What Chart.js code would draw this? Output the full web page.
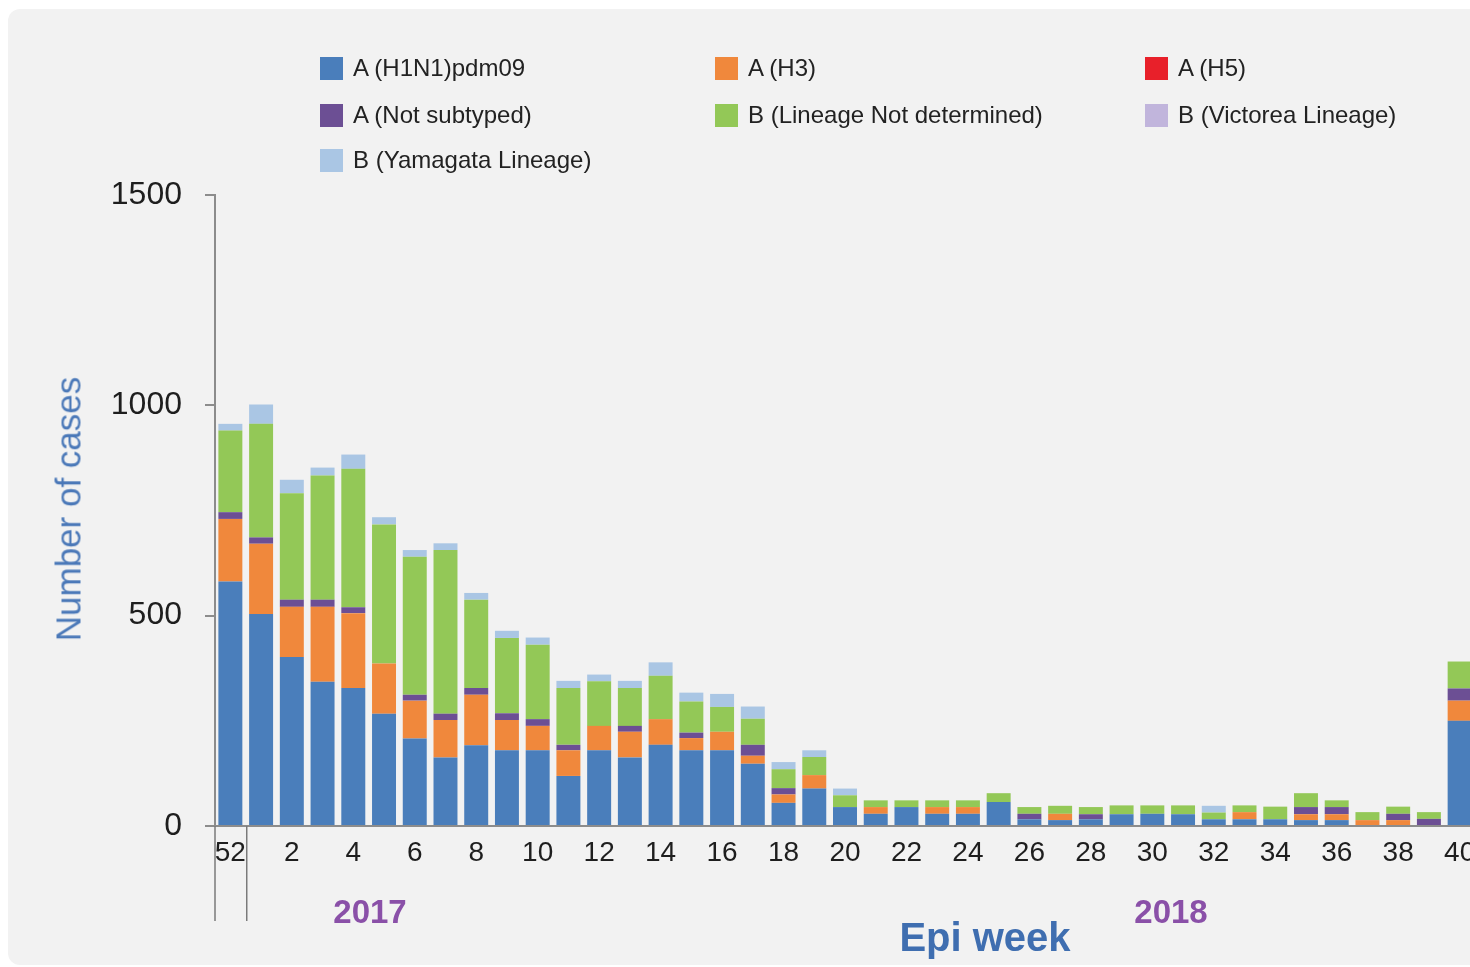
<!DOCTYPE html>
<html>
<head>
<meta charset="utf-8">
<script src="https://cdn.jsdelivr.net/npm/chart.js@4.4.1/dist/chart.umd.min.js"></script>
<style>
  html, body { margin: 0; padding: 0; background: #fff; width: 1470px; height: 967px; overflow: hidden; }
  body { position: relative; font-family: 'Liberation Sans', Arial, sans-serif; }
  #panel { position: absolute; left: 8px; top: 9px; width: 1500px; height: 956px; background: #f2f2f2; border-radius: 12px; }
  #c { position: absolute; left: 0; top: 0; }
  .lbl { position: absolute; white-space: nowrap; line-height: 1; transform: translate(-50%, -50%); }
  #ytitle { left: 68px; top: 509px; font-size: 35px; color: #4a78b8; transform: translate(-50%, -50%) rotate(-90deg); }
  .year { font-size: 33px; font-weight: bold; color: #8a50a8; top: 911px; }
  #xtitle { left: 985px; top: 937px; font-size: 40px; font-weight: bold; color: #3f6eb0; }
  .leg { position: absolute; height: 28px; display: flex; align-items: center; font-size: 24px; color: #222; white-space: nowrap; }
  .leg span.box { width: 23px; height: 23px; margin-right: 10px; display: inline-block; }
</style>
</head>
<body>
<div id="panel"></div>
<canvas id="c" width="1490" height="967"></canvas>
<div id="legend"></div>
<div class="lbl" id="ytitle">Number of cases</div>
<div class="lbl year" style="left:370px">2017</div>
<div class="lbl year" style="left:1171px">2018</div>
<div class="lbl" id="xtitle">Epi week</div>
<script>
// epi weeks (52 of previous year, then 1..40)
const weeks = ['52','1','2','3','4','5','6','7','8','9','10','11','12','13','14','15','16','17','18','19','20',
  '21','22','23','24','25','26','27','28','29','30','31','32','33','34','35','36','37','38','39','40'];

const h1n1 = [581, 504, 402, 343, 328, 267, 208, 163, 192, 180, 180, 119, 180, 163, 193, 180, 180, 148, 55, 89, 45,
  29, 45, 29, 29, 57, 16, 14, 16, 28, 29, 28, 16, 16, 16, 14, 14, 0, 0, 0, 250];
const h3 = [149, 167, 119, 178, 178, 119, 90, 89, 120, 72, 58, 61, 58, 61, 61, 29, 44, 19, 20, 32, 0,
  16, 0, 16, 16, 0, 0, 15, 0, 0, 0, 0, 0, 17, 0, 14, 14, 14, 14, 0, 48];
const h5 = [0, 0, 0, 0, 0, 0, 0, 0, 0, 0, 0, 0, 0, 0, 0, 0, 0, 0, 0, 0, 0,
  0, 0, 0, 0, 0, 0, 0, 0, 0, 0, 0, 0, 0, 0, 0, 0, 0, 0, 0, 0];
const notSubtyped = [16, 15, 17, 17, 14, 0, 14, 15, 16, 16, 16, 13, 0, 14, 0, 13, 0, 26, 15, 0, 0,
  0, 0, 0, 0, 0, 13, 0, 12, 0, 0, 0, 0, 0, 0, 17, 17, 0, 15, 17, 29];
const bNotDetermined = [194, 270, 253, 295, 329, 331, 328, 389, 210, 179, 177, 135, 106, 90, 103, 74, 59, 62, 45, 43, 28,
  16, 16, 16, 16, 21, 16, 19, 17, 21, 20, 21, 16, 16, 30, 33, 16, 19, 17, 16, 64];
const victoria = [0, 0, 0, 0, 0, 0, 0, 0, 0, 0, 0, 0, 0, 0, 0, 0, 0, 0, 0, 0, 0,
  0, 0, 0, 0, 0, 0, 0, 0, 0, 0, 0, 0, 0, 0, 0, 0, 0, 0, 0, 0];
const yamagata = [16, 46, 32, 19, 34, 17, 16, 16, 16, 17, 17, 17, 16, 17, 32, 21, 31, 29, 17, 16, 16,
  0, 0, 0, 0, 0, 0, 0, 0, 0, 0, 0, 16, 0, 0, 0, 0, 0, 0, 0, 0];

const yTicks = [0, 500, 1000, 1500];

const series = [
  {label: 'A (H1N1)pdm09', data: h1n1, color: '#4a7ebb'},
  {label: 'A (H3)', data: h3, color: '#f0883c'},
  {label: 'A (H5)', data: h5, color: '#e8202a'},
  {label: 'A (Not subtyped)', data: notSubtyped, color: '#6c4f94'},
  {label: 'B (Lineage Not determined)', data: bNotDetermined, color: '#93c857'},
  {label: 'B (Victorea Lineage)', data: victoria, color: '#c1b5dc'},
  {label: 'B (Yamagata Lineage)', data: yamagata, color: '#aac6e4'}
];

// legend, 3 columns
const legCols = [320, 715, 1145];
const legRows = [68, 115, 160];
const legend = document.getElementById('legend');
series.forEach((s, i) => {
  const d = document.createElement('div');
  d.className = 'leg';
  d.style.left = legCols[i % 3] + 'px';
  d.style.top = (legRows[Math.floor(i / 3)] - 14) + 'px';
  d.innerHTML = '<span class="box" style="background:' + s.color + '"></span>' + s.label;
  legend.appendChild(d);
});

// year separator lines below the axis
const yearLines = {
  id: 'yearLines',
  afterDraw(chart) {
    const x = chart.scales.x;
    const ctx = chart.ctx;
    const bottom = chart.chartArea.bottom;
    const i = weeks.indexOf('1');
    const xs = [chart.chartArea.left, (x.getPixelForValue(i - 1) + x.getPixelForValue(i)) / 2 + 1];
    ctx.save();
    ctx.strokeStyle = '#7a7a7a';
    ctx.lineWidth = 1.5;
    xs.forEach(px => {
      ctx.beginPath();
      ctx.moveTo(px, bottom);
      ctx.lineTo(px, 921);
      ctx.stroke();
    });
    ctx.restore();
  }
};

const font = "'Liberation Sans', Arial, sans-serif";

new Chart(document.getElementById('c'), {
  type: 'bar',
  data: {
    labels: weeks,
    datasets: series.map(s => ({
      label: s.label,
      data: s.data,
      backgroundColor: s.color,
      borderWidth: 0,
      barPercentage: 0.78,
      categoryPercentage: 1.0
    }))
  },
  options: {
    responsive: false,
    animation: false,
    layout: {padding: {top: 195, right: 15, left: 0, bottom: 0}},
    plugins: {legend: {display: false}, tooltip: {enabled: false}},
    scales: {
      x: {
        stacked: true,
        grid: {display: false, drawTicks: false, tickLength: 0},
        border: {display: true, color: '#8c8c8c', width: 2},
        ticks: {
          autoSkip: false,
          maxRotation: 0,
          padding: 10,
          color: '#1e1e1e',
          font: {family: font, size: 28},
          callback: function (value, index) {
            const w = weeks[index];
            return (w === '52' || Number(w) % 2 === 0) ? w : '';
          }
        },
        afterFit: function (scale) { scale.height = 141; }
      },
      y: {
        stacked: true,
        min: 0,
        max: 1500,
        afterBuildTicks: function (scale) { scale.ticks = yTicks.map(v => ({value: v})); },
        grid: {drawOnChartArea: false, drawTicks: true, tickLength: 10, color: '#8c8c8c', lineWidth: 2},
        border: {display: true, color: '#8c8c8c', width: 2},
        ticks: {
          padding: 23,
          color: '#1e1e1e',
          font: {family: font, size: 32},
          callback: function (value) { return String(value); }
        },
        afterFit: function (scale) { scale.width = 215; }
      }
    }
  },
  plugins: [yearLines]
});
</script>
</body>
</html>
